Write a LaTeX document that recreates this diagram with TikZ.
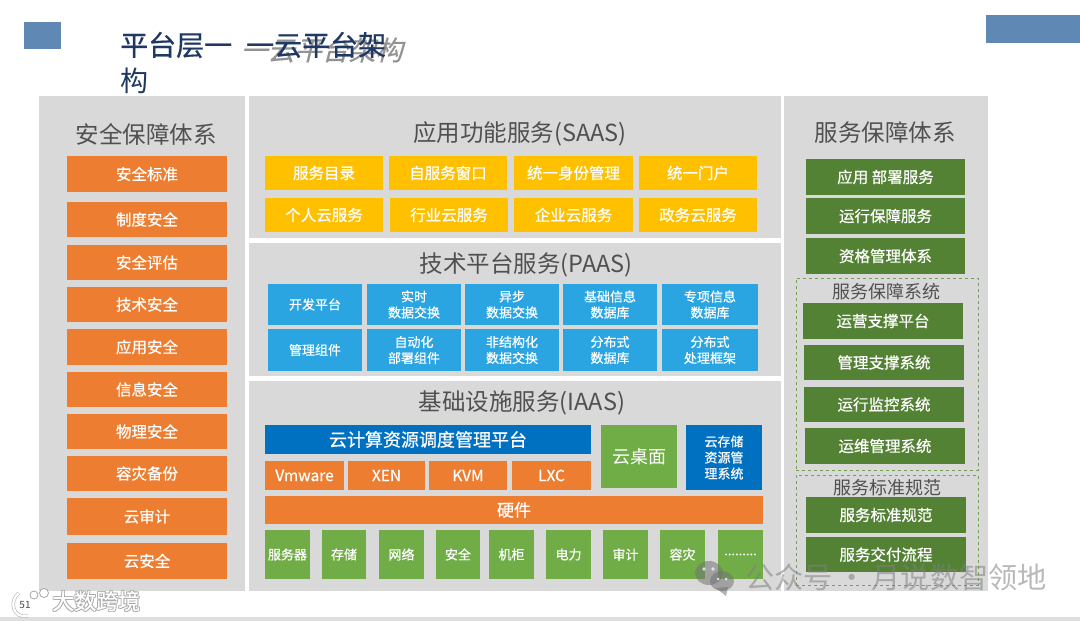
\documentclass[tikz,border=0pt]{standalone}
\usepackage{fontspec}
\setmainfont{Noto Sans CJK SC}
\newfontfamily\semif[FakeBold=0.6]{Noto Sans CJK SC}
\usetikzlibrary{positioning}
\definecolor{panel}{HTML}{D9D9D9}
\definecolor{orangeb}{HTML}{ED7D31}
\definecolor{goldb}{HTML}{FFC000}
\definecolor{skyb}{HTML}{2AA5E2}
\definecolor{blueb}{HTML}{0070C0}
\definecolor{greenb}{HTML}{70AD47}
\definecolor{dgreen}{HTML}{548235}
\definecolor{steel}{HTML}{5F89B4}
\definecolor{headc}{HTML}{505050}
\definecolor{titlec}{HTML}{1F3864}
\tikzset{
  x=1pt,y=-1pt,
  bx/.style={anchor=north west,inner sep=0pt,outer sep=0pt,align=center,text=white,font=\semif\fontsize{15.5}{17}\selectfont},
  smallbx/.style={bx,font=\semif\fontsize{13}{16}\selectfont},
  panelbox/.style={bx,fill=panel},
  head/.style={text=headc,font=\fontsize{23.5}{27}\selectfont,inner sep=0pt},
  subhead/.style={text=headc,font=\fontsize{18}{22}\selectfont,inner sep=0pt},
  dashedbox/.style={draw=greenb!75!gray,dashed,line width=0.7pt,fill=none},
}
% name, x0, y0, x1, y1, style, text
\newcommand{\bxx}[7]{\node[#6,minimum width={(#4-#2)*1pt},minimum height={(#5-#3)*1pt}] (#1) at (#2,#3) {#7};}
\begin{document}
\begin{tikzpicture}
\useasboundingbox (0,0) rectangle (1080,621);
\fill[white] (0,0) rectangle (1080,621);
% corner marks
\bxx{mL}{24}{22}{61}{49}{bx,fill=steel}{}
\bxx{mR}{986}{15}{1080}{43}{bx,fill=steel}{}
% title
\node[anchor=west,inner sep=0pt,text=gray!85,font=\semif\fontsize{27}{30}\selectfont,xslant=0.25] (titleshadow) at (243,50) {一云平台架构};
\node[anchor=west,inner sep=0pt,text=titlec,font=\semif\fontsize{28}{30}\selectfont] (title1) at (120,45) {平台层一\hspace{14pt}一云平台架};
\node[anchor=west,inner sep=0pt,text=titlec,font=\fontsize{28}{30}\selectfont] (title2) at (120,81) {构};
% panels
\bxx{pL}{39}{96}{245}{591}{panelbox}{}
\bxx{pS}{249}{96}{781}{238}{panelbox}{}
\bxx{pP}{249}{243}{781}{376}{panelbox}{}
\bxx{pI}{249}{381}{781}{591}{panelbox}{}
\bxx{pR}{784}{96}{988}{591}{panelbox}{}
% headings
\node[head] (hL) at (146,134) {安全保障体系};
\node[head] (hS) at (520,134) {应用功能服务(SAAS)};
\node[head] (hP) at (526,265) {技术平台服务(PAAS)};
\node[head] (hI) at (522,403) {基础设施服务(IAAS)};
\node[head] (hR) at (885,133) {服务保障体系};
% left column
\tikzset{ob/.style={bx,fill=orangeb}}
\bxx{l1}{67}{156}{227}{192}{ob}{安全标准}
\bxx{l2}{67}{202}{227}{237}{ob}{制度安全}
\bxx{l3}{67}{245}{227}{280}{ob}{安全评估}
\bxx{l4}{67}{287}{227}{322}{ob}{技术安全}
\bxx{l5}{67}{329}{227}{365}{ob}{应用安全}
\bxx{l6}{67}{372}{227}{407}{ob}{信息安全}
\bxx{l7}{67}{414}{227}{449}{ob}{物理安全}
\bxx{l8}{67}{456}{227}{491}{ob}{容灾备份}
\bxx{l9}{67}{498}{227}{535}{ob}{云审计}
\bxx{l10}{67}{543}{227}{579}{ob}{云安全}
% SaaS
\tikzset{gb/.style={bx,fill=goldb}}
\bxx{s1}{265}{156}{383}{190}{gb}{服务目录}
\bxx{s2}{389}{156}{507}{190}{gb}{自服务窗口}
\bxx{s3}{514}{156}{633}{190}{gb}{统一身份管理}
\bxx{s4}{639}{156}{757}{190}{gb}{统一门户}
\bxx{s5}{265}{198}{383}{232}{gb}{个人云服务}
\bxx{s6}{390}{198}{508}{232}{gb}{行业云服务}
\bxx{s7}{514}{198}{633}{232}{gb}{企业云服务}
\bxx{s8}{639}{198}{757}{232}{gb}{政务云服务}
% PaaS
\tikzset{sb/.style={smallbx,fill=skyb}}
\bxx{a1}{268}{284}{362}{325}{sb}{开发平台}
\bxx{a2}{367}{284}{461}{325}{sb}{实时\\数据交换}
\bxx{a3}{465}{284}{559}{325}{sb}{异步\\数据交换}
\bxx{a4}{563}{284}{657}{325}{sb}{基础信息\\数据库}
\bxx{a5}{662}{284}{758}{325}{sb}{专项信息\\数据库}
\bxx{a6}{268}{329}{362}{371}{sb}{管理组件}
\bxx{a7}{367}{329}{461}{371}{sb}{自动化\\部署组件}
\bxx{a8}{465}{329}{559}{371}{sb}{非结构化\\数据交换}
\bxx{a9}{563}{329}{657}{371}{sb}{分布式\\数据库}
\bxx{a10}{662}{329}{758}{371}{sb}{分布式\\处理框架}
% IaaS
\bxx{i1}{265}{425}{591}{454}{bx,fill=blueb,font=\semif\fontsize{18}{22}\selectfont}{云计算资源调度管理平台}
\bxx{v1}{265}{461}{344}{490}{bx,fill=orangeb}{Vmware}
\bxx{v2}{348}{461}{425}{490}{bx,fill=orangeb}{XEN}
\bxx{v3}{429}{461}{507}{490}{bx,fill=orangeb}{KVM}
\bxx{v4}{512}{461}{591}{490}{bx,fill=orangeb}{LXC}
\bxx{i2}{601}{425}{677}{488}{bx,fill=greenb,font=\fontsize{18}{22}\selectfont}{云桌面}
\bxx{i3}{686}{425}{762}{490}{smallbx,fill=blueb}{云存储\\资源管\\理系统}
\bxx{hw}{265}{496}{763}{524}{bx,fill=orangeb,font=\semif\fontsize{17}{20}\selectfont}{硬件}
\tikzset{grb/.style={smallbx,fill=greenb}}
\bxx{g1}{265}{530}{310}{579}{grb}{服务器}
\bxx{g2}{322}{530}{366}{579}{grb}{存储}
\bxx{g3}{379}{530}{424}{579}{grb}{网络}
\bxx{g4}{436}{530}{480}{579}{grb}{安全}
\bxx{g5}{489}{530}{534}{579}{grb}{机柜}
\bxx{g6}{546}{530}{591}{579}{grb}{电力}
\bxx{g7}{603}{530}{648}{579}{grb}{审计}
\bxx{g8}{660}{530}{705}{579}{grb}{容灾}
\bxx{g9}{718}{530}{763}{579}{grb}{.........}
% right column
\tikzset{db/.style={bx,fill=dgreen}}
\bxx{r1}{806}{159}{965}{195}{db}{应用 部署服务}
\bxx{r2}{806}{198}{965}{234}{db}{运行保障服务}
\bxx{r3}{806}{238}{965}{274}{db}{资格管理体系}
\bxx{d1}{796}{278}{978}{470}{bx,dashedbox}{}
\bxx{d2}{796}{475}{978}{585}{bx,dashedbox}{}
\node[subhead] (hd1) at (886,292) {服务保障系统};
\node[subhead] (hd2) at (887,488) {服务标准规范};
\bxx{r4}{803}{303}{963}{339}{db}{运营支撑平台}
\bxx{r5}{804}{345}{964}{380}{db}{管理支撑系统}
\bxx{r6}{804}{387}{964}{422}{db}{运行监控系统}
\bxx{r7}{805}{428}{965}{464}{db}{运维管理系统}
\bxx{r8}{806}{497}{966}{533}{db}{服务标准规范}
\bxx{r9}{806}{537}{966}{572}{db}{服务交付流程}
% bottom rule
\fill[gray!25] (0,617) rectangle (1080,621);
% watermark right
\begin{scope}[opacity=0.55]
\fill[gray!90!black] (709,573) ellipse (14 and 12);
\fill[gray!90!black] (722,581) ellipse (12 and 10);
\fill[gray!90!black] (716,588) -- (728,587) -- (726,596) -- cycle;
\node[anchor=west,inner sep=0pt,text=gray,font=\fontsize{29.2}{31}\selectfont] (wm) at (745,577) {公众号\,·\,月说数智领地};
\end{scope}
\fill[white,opacity=0.7] (704,569) circle (1.8) (713,569) circle (1.8) (718,579) circle (1.5) (726,579) circle (1.5);
% watermark left
\foreach \dx/\dy in {-.7/-.7,.7/-.7,-.7/.7,.7/.7}
  \node[anchor=west,inner sep=0pt,text=gray!70,font=\semif\fontsize{22}{24}\selectfont] at (52+\dx,601+\dy) {大数跨境};
\node[anchor=west,inner sep=0pt,text=white,font=\semif\fontsize{22}{24}\selectfont] (wm2) at (52,601) {大数跨境};
\draw[gray!60,line width=3.4pt] (19,593) .. controls (9,600) and (12,619) .. (28,616);
\draw[white,line width=2.2pt] (19,593) .. controls (9,600) and (12,619) .. (28,616);
\draw[gray!70,fill=white,line width=.8pt] (34,595) circle (4);
\draw[gray!70,fill=white,line width=.8pt] (44,593) circle (4.5);
\node[inner sep=0pt,text=black!70,font=\fontsize{10}{10}\selectfont] (pg) at (25,605) {51};
\end{tikzpicture}
\end{document}
